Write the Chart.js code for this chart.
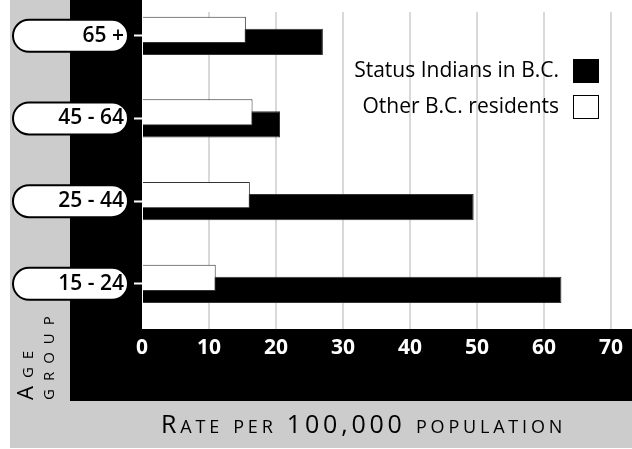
<!DOCTYPE html>
<html>
<head>
<meta charset="utf-8">
<script src="https://cdn.jsdelivr.net/npm/chart.js@4.4.1/dist/chart.umd.min.js"></script>
<style>
  html, body { margin: 0; padding: 0; background: #ffffff; }
  canvas { display: block; }
</style>
</head>
<body>
<canvas id="chart" width="632" height="449"></canvas>
<script>
// ---- data ----
const categories = ['65 +', '45 - 64', '25 - 44', '15 - 24'];
const statusIndians = [27.0, 20.6, 49.5, 62.6];
const otherResidents = [15.5, 16.5, 16.1, 11.0];
const seriesNames = ['Status Indians in B.C.', 'Other B.C. residents'];
const xTickStep = 10;
const xTitle = 'Rate per 100,000 population';
const yTitle = ['Age', 'group'];

const FONT = '"Open Sans", "DejaVu Sans", sans-serif';

const decor = {
  id: 'decor',
  beforeDraw(chart) {
    const { ctx, chartArea: a, width } = chart;
    ctx.save();
    ctx.fillStyle = '#cccccc';
    ctx.fillRect(10, 0, width - 10, 448);
    ctx.fillStyle = '#000000';
    ctx.fillRect(70, 0, width - 70, 401);
    ctx.fillStyle = '#ffffff';
    ctx.fillRect(a.left, 0, a.right - a.left, a.bottom);
    // pill shapes behind the category tick labels
    const ys = chart.scales.y;
    ctx.lineWidth = 2;
    ctx.strokeStyle = '#000000';
    ctx.fillStyle = '#ffffff';
    categories.forEach((c, i) => {
      const py = ys.getPixelForValue(i);
      ctx.beginPath();
      ctx.roundRect(13, py - 16, 115, 32, 16);
      ctx.fill();
      ctx.stroke();
    });
    ctx.restore();
  },
  afterDraw(chart) {
    const { ctx, chartArea: a } = chart;
    ctx.save();
    // legend (custom placed inside the plot)
    const items = chart.data.datasets.slice().reverse();
    items.forEach((ds, k) => {
      const cy = 71 + k * 36;
      ctx.font = '21px ' + FONT;
      ctx.textAlign = 'right';
      ctx.textBaseline = 'middle';
      ctx.fillStyle = '#000000';
      ctx.fillText(ds.label, a.right - 73, cy);
      ctx.fillStyle = ds.backgroundColor;
      ctx.fillRect(a.right - 59, cy - 12, 26, 24);
      ctx.lineWidth = 1;
      ctx.strokeStyle = '#000000';
      ctx.strokeRect(a.right - 58.5, cy - 11.5, 25, 23);
    });
    // x axis title (small caps)
    ctx.fillStyle = '#000000';
    ctx.textAlign = 'left';
    ctx.textBaseline = 'alphabetic';
    ctx.font = '25px ' + FONT;
    ctx.fontVariantCaps = 'small-caps';
    ctx.letterSpacing = '3.8px';
    ctx.fillText(xTitle, 161, 433);
    // y axis title (rotated, small caps)
    ctx.translate(0, 400);
    ctx.rotate(-Math.PI / 2);
    ctx.font = '22px ' + FONT;
    ctx.fontVariantCaps = 'small-caps';
    ctx.letterSpacing = '8px';
    ctx.fillText(yTitle[0], 0, 33);
    ctx.fillText(yTitle[1], 0, 54);
    ctx.restore();
  }
};

new Chart(document.getElementById('chart'), {
  type: 'bar',
  data: {
    datasets: [
      {
        label: seriesNames[1],
        data: otherResidents.map((v, i) => ({ x: v, y: i })),
        backgroundColor: '#ffffff',
        borderColor: '#333333',
        borderWidth: 1,
        categoryPercentage: 0.29,
        barPercentage: 2.19
      },
      {
        label: seriesNames[0],
        data: statusIndians.map((v, i) => ({ x: v, y: i })),
        backgroundColor: '#000000',
        borderColor: '#333333',
        borderWidth: 1,
        categoryPercentage: 0.29,
        barPercentage: 2.19
      }
    ]
  },
  options: {
    indexAxis: 'y',
    responsive: false,
    animation: false,
    layout: { padding: { top: 12, left: 0, right: 0, bottom: 0 } },
    plugins: {
      legend: { display: false },
      tooltip: { enabled: false }
    },
    scales: {
      x: {
        type: 'linear',
        position: 'bottom',
        min: 0,
        max: 73.13,
        afterFit: (s) => { s.height = 120; },
        border: { display: false },
        grid: {
          color: (c) => (c.tick && c.tick.value === 0) ? 'rgba(0,0,0,0)' : '#d9d9d9',
          lineWidth: 2,
          drawTicks: false
        },
        ticks: {
          stepSize: xTickStep,
          includeBounds: false,
          color: '#ffffff',
          padding: 6,
          font: { family: FONT, size: 21, weight: 'bold' }
        }
      },
      y: {
        type: 'linear',
        position: 'left',
        reverse: true,
        offset: false,
        bounds: 'data',
        min: -0.288,
        max: 3.547,
        afterFit: (s) => { s.width = 142; s.paddingTop = 0; s.paddingBottom = 0; },
        afterBuildTicks: (s) => { s.ticks = categories.map((c, i) => ({ value: i })); },
        border: { display: false },
        grid: {
          offset: false,
          drawOnChartArea: false,
          drawTicks: true,
          tickLength: 8,
          tickWidth: 2,
          tickColor: '#ffffff'
        },
        ticks: {
          callback: (v) => categories[v],
          color: '#000000',
          padding: 10,
          font: { family: FONT, size: 21, weight: '600' }
        }
      }
    }
  },
  plugins: [decor]
});
</script>
</body>
</html>
